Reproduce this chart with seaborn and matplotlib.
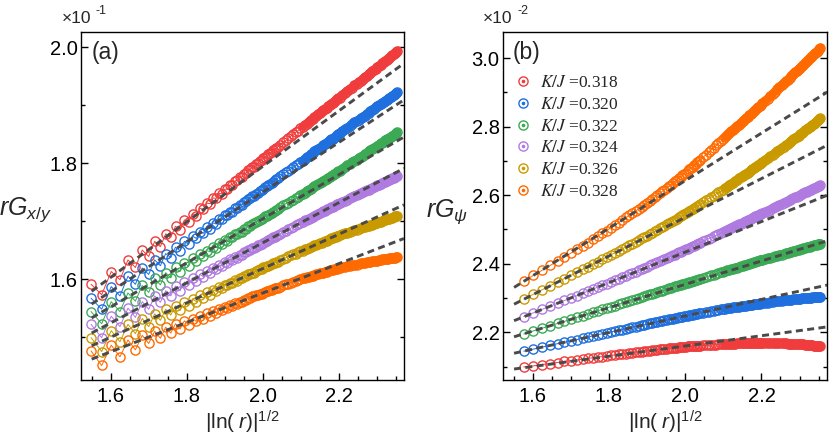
import matplotlib
matplotlib.use("Agg")
import matplotlib.pyplot as plt
from matplotlib.lines import Line2D
from matplotlib.ticker import MultipleLocator, FormatStrFormatter
import numpy as np
import seaborn as sns

# distances r (panel b starts at r=12)
r_a = [11, 12, 13, 14, 15, 16, 17, 18, 19, 20, 21, 22, 23, 24, 25, 26, 27, 28, 29, 30,
       31, 32, 33, 34, 35, 36, 37, 38, 39, 40, 41, 42, 43, 44, 45, 46, 47, 48, 49, 50,
       51, 52, 53, 54, 55, 56, 57, 58, 59, 60, 61, 62, 63, 64,
       66, 68, 70, 72, 74, 76, 78, 80, 82, 84, 86, 88, 90, 92, 94, 96, 98, 100, 102, 104,
       106, 108, 110, 112, 114, 116, 118, 120, 122, 124, 126, 128,
       132, 136, 140, 144, 148, 152, 156, 160, 164, 168, 172, 176, 180, 184, 188, 192,
       196, 200, 204, 208, 212, 216, 220, 224, 228, 232, 236, 240, 244, 248, 252, 256]
r_b = r_a[1:]

kj_labels = ["0.318", "0.320", "0.322", "0.324", "0.326", "0.328"]
colors = ["#f03c3c", "#1f6fde", "#3caa55", "#b07be0", "#c99a00", "#ff6a00"]

# panel (a): rG_x/y  (x 10^-1)
a_318 = [1.591, 1.573, 1.613, 1.599, 1.633, 1.620, 1.650, 1.639, 1.665, 1.656,
         1.678, 1.672, 1.691, 1.685, 1.702, 1.698, 1.713, 1.709, 1.722, 1.720,
         1.731, 1.730, 1.740, 1.739, 1.748, 1.747, 1.755, 1.755, 1.762, 1.763,
         1.769, 1.770, 1.776, 1.776, 1.782, 1.783, 1.788, 1.789, 1.793, 1.794,
         1.798, 1.800, 1.803, 1.806, 1.808, 1.810, 1.813, 1.815, 1.817, 1.819,
         1.822, 1.824, 1.826, 1.828,
         1.832, 1.836, 1.839, 1.843, 1.847, 1.850, 1.853, 1.856, 1.860, 1.863,
         1.866, 1.868, 1.871, 1.874, 1.876, 1.879, 1.882, 1.884, 1.886, 1.889,
         1.891, 1.893, 1.895, 1.898, 1.900, 1.902, 1.904, 1.906, 1.908, 1.910,
         1.912, 1.913,
         1.917, 1.921, 1.924, 1.927, 1.930, 1.934, 1.937, 1.940, 1.942, 1.945,
         1.948, 1.950, 1.953, 1.956, 1.958, 1.960, 1.963, 1.965, 1.967, 1.969,
         1.972, 1.974, 1.976, 1.978, 1.980, 1.982, 1.984, 1.986, 1.988, 1.989,
         1.991, 1.993]
a_320 = [1.567, 1.548, 1.587, 1.571, 1.605, 1.591, 1.619, 1.608, 1.633, 1.623,
         1.644, 1.637, 1.655, 1.649, 1.665, 1.660, 1.674, 1.670, 1.682, 1.679,
         1.690, 1.687, 1.697, 1.695, 1.704, 1.703, 1.710, 1.710, 1.716, 1.716,
         1.722, 1.722, 1.728, 1.728, 1.733, 1.734, 1.738, 1.739, 1.743, 1.744,
         1.747, 1.749, 1.752, 1.754, 1.756, 1.758, 1.760, 1.762, 1.764, 1.766,
         1.768, 1.770, 1.772, 1.774,
         1.777, 1.781, 1.784, 1.787, 1.790, 1.793, 1.796, 1.799, 1.802, 1.804,
         1.807, 1.810, 1.812, 1.815, 1.817, 1.820, 1.822, 1.824, 1.826, 1.828,
         1.831, 1.833, 1.835, 1.837, 1.839, 1.841, 1.842, 1.844, 1.846, 1.848,
         1.850, 1.851,
         1.855, 1.858, 1.861, 1.864, 1.867, 1.870, 1.872, 1.875, 1.877, 1.880,
         1.882, 1.885, 1.887, 1.889, 1.892, 1.894, 1.896, 1.898, 1.900, 1.902,
         1.904, 1.905, 1.907, 1.909, 1.911, 1.912, 1.914, 1.916, 1.917, 1.919,
         1.920, 1.922]
a_322 = [1.544, 1.523, 1.561, 1.544, 1.576, 1.562, 1.589, 1.577, 1.601, 1.590,
         1.611, 1.602, 1.620, 1.613, 1.628, 1.622, 1.636, 1.631, 1.643, 1.639,
         1.649, 1.647, 1.656, 1.654, 1.662, 1.660, 1.667, 1.666, 1.672, 1.672,
         1.677, 1.677, 1.682, 1.682, 1.686, 1.687, 1.691, 1.691, 1.695, 1.696,
         1.698, 1.700, 1.702, 1.704, 1.706, 1.708, 1.709, 1.711, 1.713, 1.714,
         1.716, 1.718, 1.719, 1.721,
         1.724, 1.727, 1.730, 1.732, 1.735, 1.737, 1.740, 1.742, 1.745, 1.747,
         1.749, 1.752, 1.754, 1.756, 1.758, 1.760, 1.762, 1.764, 1.766, 1.768,
         1.769, 1.771, 1.773, 1.775, 1.776, 1.778, 1.780, 1.781, 1.783, 1.784,
         1.786, 1.787,
         1.790, 1.793, 1.796, 1.799, 1.801, 1.804, 1.806, 1.809, 1.811, 1.813,
         1.816, 1.818, 1.820, 1.822, 1.824, 1.826, 1.828, 1.830, 1.832, 1.834,
         1.835, 1.837, 1.839, 1.841, 1.842, 1.844, 1.845, 1.847, 1.848, 1.850,
         1.852, 1.853]
a_324 = [1.522, 1.499, 1.536, 1.518, 1.550, 1.534, 1.561, 1.548, 1.571, 1.560,
         1.580, 1.571, 1.588, 1.580, 1.595, 1.589, 1.602, 1.597, 1.608, 1.604,
         1.614, 1.611, 1.619, 1.617, 1.624, 1.623, 1.629, 1.628, 1.634, 1.633,
         1.638, 1.637, 1.642, 1.642, 1.646, 1.646, 1.650, 1.650, 1.653, 1.654,
         1.656, 1.658, 1.659, 1.661, 1.663, 1.664, 1.666, 1.667, 1.669, 1.670,
         1.672, 1.673, 1.674, 1.676,
         1.678, 1.681, 1.683, 1.686, 1.688, 1.690, 1.693, 1.695, 1.697, 1.699,
         1.701, 1.702, 1.704, 1.706, 1.707, 1.709, 1.711, 1.712, 1.714, 1.715,
         1.717, 1.718, 1.720, 1.721, 1.722, 1.724, 1.725, 1.726, 1.727, 1.729,
         1.730, 1.731,
         1.733, 1.735, 1.737, 1.739, 1.741, 1.743, 1.745, 1.746, 1.748, 1.750,
         1.751, 1.753, 1.754, 1.756, 1.757, 1.759, 1.760, 1.762, 1.763, 1.764,
         1.765, 1.767, 1.768, 1.769, 1.770, 1.771, 1.773, 1.774, 1.775, 1.776,
         1.777, 1.778]
a_326 = [1.499, 1.475, 1.511, 1.492, 1.522, 1.506, 1.532, 1.518, 1.540, 1.529,
         1.548, 1.538, 1.554, 1.546, 1.560, 1.554, 1.566, 1.561, 1.572, 1.567,
         1.577, 1.573, 1.581, 1.579, 1.586, 1.584, 1.590, 1.589, 1.594, 1.593,
         1.598, 1.597, 1.601, 1.601, 1.605, 1.605, 1.608, 1.608, 1.611, 1.611,
         1.614, 1.615, 1.617, 1.618, 1.620, 1.621, 1.622, 1.623, 1.625, 1.626,
         1.627, 1.628, 1.629, 1.630,
         1.633, 1.635, 1.637, 1.639, 1.641, 1.643, 1.644, 1.646, 1.648, 1.649,
         1.651, 1.652, 1.654, 1.655, 1.657, 1.658, 1.659, 1.660, 1.662, 1.663,
         1.664, 1.665, 1.666, 1.668, 1.669, 1.670, 1.671, 1.672, 1.673, 1.674,
         1.675, 1.676,
         1.677, 1.679, 1.680, 1.681, 1.683, 1.684, 1.685, 1.687, 1.688, 1.689,
         1.690, 1.691, 1.692, 1.693, 1.694, 1.695, 1.696, 1.697, 1.698, 1.699,
         1.700, 1.701, 1.702, 1.703, 1.704, 1.704, 1.705, 1.706, 1.707, 1.708,
         1.708, 1.709]
a_328 = [1.476, 1.451, 1.486, 1.466, 1.495, 1.478, 1.503, 1.489, 1.510, 1.498,
         1.517, 1.507, 1.523, 1.514, 1.528, 1.521, 1.532, 1.527, 1.537, 1.532,
         1.541, 1.537, 1.545, 1.542, 1.549, 1.546, 1.552, 1.550, 1.555, 1.554,
         1.558, 1.557, 1.561, 1.561, 1.564, 1.564, 1.567, 1.567, 1.570, 1.570,
         1.572, 1.573, 1.574, 1.575, 1.576, 1.578, 1.579, 1.580, 1.581, 1.582,
         1.583, 1.584, 1.585, 1.585,
         1.587, 1.589, 1.591, 1.592, 1.594, 1.595, 1.597, 1.598, 1.600, 1.601,
         1.602, 1.603, 1.604, 1.605, 1.606, 1.607, 1.608, 1.609, 1.610, 1.610,
         1.611, 1.612, 1.613, 1.614, 1.615, 1.615, 1.616, 1.617, 1.617, 1.618,
         1.619, 1.619,
         1.620, 1.621, 1.622, 1.623, 1.624, 1.624, 1.625, 1.626, 1.627, 1.627,
         1.628, 1.629, 1.629, 1.630, 1.631, 1.631, 1.632, 1.632, 1.633, 1.633,
         1.634, 1.634, 1.634, 1.635, 1.635, 1.636, 1.636, 1.637, 1.637, 1.637,
         1.638, 1.638]

# panel (b): rG_psi  (x 10^-2)
b_318 = [2.099, 2.102, 2.106, 2.109, 2.112, 2.115, 2.117, 2.119, 2.122,
         2.124, 2.126, 2.128, 2.129, 2.131, 2.133, 2.134, 2.136, 2.137, 2.138,
         2.139, 2.141, 2.142, 2.143, 2.144, 2.145, 2.146, 2.147, 2.148, 2.149,
         2.149, 2.150, 2.151, 2.151, 2.152, 2.153, 2.154, 2.154, 2.155, 2.155,
         2.156, 2.157, 2.157, 2.158, 2.158, 2.159, 2.159, 2.159, 2.160, 2.160,
         2.160, 2.161, 2.161, 2.161,
         2.162, 2.162, 2.163, 2.163, 2.164, 2.164, 2.165, 2.165, 2.166, 2.166,
         2.166, 2.167, 2.167, 2.167, 2.167, 2.168, 2.168, 2.168, 2.168, 2.168,
         2.168, 2.169, 2.169, 2.169, 2.169, 2.169, 2.169, 2.170, 2.170, 2.170,
         2.170, 2.170,
         2.170, 2.169, 2.169, 2.169, 2.169, 2.168, 2.168, 2.168, 2.168, 2.168,
         2.167, 2.167, 2.167, 2.167, 2.166, 2.166, 2.166, 2.166, 2.165, 2.165,
         2.164, 2.164, 2.163, 2.163, 2.162, 2.162, 2.161, 2.161, 2.160, 2.160,
         2.159, 2.159]
b_320 = [2.145, 2.151, 2.157, 2.162, 2.167, 2.171, 2.175, 2.179, 2.183,
         2.186, 2.190, 2.193, 2.196, 2.199, 2.201, 2.204, 2.206, 2.208, 2.211,
         2.213, 2.215, 2.217, 2.219, 2.221, 2.222, 2.224, 2.226, 2.227, 2.229,
         2.231, 2.232, 2.234, 2.235, 2.236, 2.238, 2.239, 2.240, 2.242, 2.243,
         2.244, 2.245, 2.246, 2.247, 2.248, 2.249, 2.250, 2.251, 2.252, 2.253,
         2.254, 2.254, 2.255, 2.256,
         2.257, 2.259, 2.260, 2.262, 2.263, 2.264, 2.266, 2.267, 2.268, 2.269,
         2.270, 2.271, 2.272, 2.273, 2.273, 2.274, 2.275, 2.276, 2.277, 2.277,
         2.278, 2.279, 2.280, 2.280, 2.281, 2.282, 2.282, 2.283, 2.284, 2.284,
         2.285, 2.285,
         2.286, 2.287, 2.288, 2.289, 2.290, 2.290, 2.291, 2.292, 2.293, 2.293,
         2.294, 2.295, 2.295, 2.296, 2.297, 2.297, 2.298, 2.298, 2.299, 2.299,
         2.300, 2.300, 2.300, 2.301, 2.301, 2.302, 2.302, 2.303, 2.303, 2.303,
         2.304, 2.304]
b_322 = [2.195, 2.204, 2.212, 2.219, 2.226, 2.232, 2.238, 2.244, 2.249,
         2.254, 2.258, 2.263, 2.267, 2.271, 2.275, 2.278, 2.282, 2.285, 2.289,
         2.292, 2.295, 2.298, 2.300, 2.303, 2.306, 2.308, 2.311, 2.313, 2.315,
         2.318, 2.320, 2.322, 2.324, 2.326, 2.328, 2.330, 2.332, 2.334, 2.335,
         2.337, 2.339, 2.340, 2.342, 2.344, 2.345, 2.347, 2.348, 2.350, 2.351,
         2.352, 2.354, 2.355, 2.356,
         2.359, 2.361, 2.364, 2.366, 2.368, 2.371, 2.373, 2.375, 2.377, 2.379,
         2.381, 2.382, 2.384, 2.386, 2.388, 2.389, 2.391, 2.393, 2.394, 2.396,
         2.397, 2.399, 2.400, 2.402, 2.403, 2.404, 2.406, 2.407, 2.408, 2.410,
         2.411, 2.412,
         2.414, 2.416, 2.418, 2.420, 2.422, 2.424, 2.426, 2.427, 2.429, 2.431,
         2.432, 2.434, 2.435, 2.437, 2.438, 2.440, 2.441, 2.443, 2.444, 2.445,
         2.447, 2.448, 2.449, 2.450, 2.451, 2.453, 2.454, 2.455, 2.456, 2.457,
         2.458, 2.459]
b_324 = [2.246, 2.257, 2.267, 2.276, 2.285, 2.293, 2.300, 2.307, 2.314,
         2.320, 2.326, 2.332, 2.337, 2.342, 2.347, 2.352, 2.357, 2.361, 2.365,
         2.369, 2.373, 2.377, 2.381, 2.384, 2.388, 2.391, 2.395, 2.398, 2.401,
         2.405, 2.408, 2.411, 2.414, 2.417, 2.419, 2.422, 2.425, 2.427, 2.430,
         2.433, 2.435, 2.437, 2.440, 2.442, 2.444, 2.447, 2.449, 2.451, 2.453,
         2.455, 2.457, 2.460, 2.461,
         2.465, 2.469, 2.473, 2.476, 2.480, 2.483, 2.486, 2.490, 2.493, 2.496,
         2.499, 2.502, 2.504, 2.507, 2.510, 2.512, 2.515, 2.517, 2.520, 2.522,
         2.525, 2.527, 2.529, 2.531, 2.533, 2.536, 2.538, 2.540, 2.542, 2.544,
         2.546, 2.547,
         2.551, 2.555, 2.558, 2.562, 2.565, 2.568, 2.572, 2.575, 2.578, 2.580,
         2.583, 2.586, 2.589, 2.591, 2.594, 2.596, 2.599, 2.601, 2.603, 2.606,
         2.608, 2.610, 2.612, 2.614, 2.616, 2.618, 2.620, 2.622, 2.624, 2.626,
         2.628, 2.630]
b_326 = [2.297, 2.311, 2.324, 2.336, 2.347, 2.357, 2.366, 2.375, 2.384,
         2.392, 2.399, 2.406, 2.413, 2.420, 2.426, 2.432, 2.438, 2.444, 2.449,
         2.454, 2.459, 2.464, 2.469, 2.474, 2.478, 2.482, 2.487, 2.491, 2.495,
         2.499, 2.503, 2.507, 2.511, 2.515, 2.518, 2.522, 2.525, 2.529, 2.532,
         2.535, 2.538, 2.541, 2.544, 2.547, 2.551, 2.554, 2.557, 2.560, 2.563,
         2.566, 2.568, 2.571, 2.574,
         2.579, 2.585, 2.590, 2.594, 2.599, 2.604, 2.608, 2.612, 2.616, 2.621,
         2.625, 2.629, 2.633, 2.637, 2.641, 2.645, 2.649, 2.652, 2.656, 2.659,
         2.663, 2.666, 2.669, 2.673, 2.676, 2.679, 2.682, 2.685, 2.688, 2.691,
         2.693, 2.696,
         2.702, 2.708, 2.713, 2.718, 2.723, 2.728, 2.733, 2.737, 2.742, 2.746,
         2.750, 2.755, 2.759, 2.763, 2.766, 2.770, 2.774, 2.778, 2.781, 2.785,
         2.789, 2.792, 2.796, 2.799, 2.802, 2.806, 2.809, 2.812, 2.815, 2.818,
         2.821, 2.824]
b_328 = [2.349, 2.366, 2.381, 2.395, 2.408, 2.420, 2.431, 2.442, 2.453,
         2.462, 2.472, 2.481, 2.489, 2.497, 2.505, 2.513, 2.520, 2.528, 2.535,
         2.541, 2.548, 2.554, 2.560, 2.566, 2.572, 2.577, 2.583, 2.589, 2.595,
         2.601, 2.606, 2.611, 2.616, 2.622, 2.626, 2.631, 2.636, 2.640, 2.645,
         2.649, 2.653, 2.658, 2.662, 2.666, 2.670, 2.675, 2.679, 2.683, 2.687,
         2.692, 2.696, 2.700, 2.703,
         2.711, 2.718, 2.725, 2.732, 2.739, 2.745, 2.751, 2.757, 2.763, 2.769,
         2.775, 2.780, 2.786, 2.791, 2.796, 2.801, 2.806, 2.811, 2.815, 2.820,
         2.824, 2.828, 2.833, 2.837, 2.841, 2.845, 2.849, 2.853, 2.857, 2.861,
         2.864, 2.868,
         2.875, 2.882, 2.889, 2.896, 2.902, 2.909, 2.915, 2.920, 2.926, 2.932,
         2.937, 2.943, 2.948, 2.953, 2.958, 2.963, 2.967, 2.972, 2.977, 2.981,
         2.986, 2.990, 2.994, 2.999, 3.003, 3.007, 3.011, 3.015, 3.019, 3.022,
         3.026, 3.030]

# linear fits (dashed), value at the left and right ends of the fit range
fit_x_a = [1.550, 2.372]
fit_a_lo = [1.579, 1.557, 1.533, 1.507, 1.485, 1.462]
fit_a_hi = [1.972, 1.909, 1.845, 1.791, 1.728, 1.670]
fit_x_b = [1.551, 2.373]
fit_b_lo = [2.093, 2.139, 2.187, 2.234, 2.282, 2.331]
fit_b_hi = [2.216, 2.338, 2.467, 2.600, 2.746, 2.901]

# beyond this r the open circles overlap into a solid band
r_dense = 84

sns.set_theme(style="ticks")
plt.rcParams["font.family"] = ["Liberation Sans", "DejaVu Sans"]
plt.rcParams["mathtext.fontset"] = "custom"
plt.rcParams["mathtext.rm"] = "Liberation Sans"
plt.rcParams["mathtext.it"] = "Liberation Sans:italic"
plt.rcParams["mathtext.bf"] = "Liberation Sans:bold"
plt.rcParams["axes.edgecolor"] = "black"
plt.rcParams["axes.linewidth"] = 1.0

fig = plt.figure(figsize=(8.3, 4.37), dpi=100)
ax_a = fig.add_axes([81/830, 1-380/437, 323/830, 348/437])
ax_b = fig.add_axes([503/830, 1-380/437, 324/830, 348/437])

x_a = np.sqrt(np.log(r_a))
x_b = np.sqrt(np.log(r_b))
series_a = [a_318, a_320, a_322, a_324, a_326, a_328]
series_b = [b_318, b_320, b_322, b_324, b_326, b_328]

marker_kw = dict(marker="o", markersize=6.6, markerfacecolor="none",
                 markeredgewidth=1.0, linewidth=0.7)
dash_kw = dict(color="#4a4a4a", linewidth=2.1, dashes=(2.4, 1.5), zorder=4)


def draw_panel(ax, r, x, series, fit_x, fit_lo, fit_hi):
    dense = np.asarray(r) >= r_dense
    for ys, c in zip(series, colors):
        ys = np.asarray(ys)
        sns.lineplot(x=x, y=ys, ax=ax, color=c, markeredgecolor=c,
                     estimator=None, sort=False, **marker_kw)
        ax.plot(x[dense], ys[dense], color=c, linewidth=6.0,
                solid_capstyle="round", zorder=1.9)
    for lo, hi in zip(fit_lo, fit_hi):
        ax.plot(fit_x, [lo, hi], **dash_kw)


draw_panel(ax_a, r_a, x_a, series_a, fit_x_a, fit_a_lo, fit_a_hi)
draw_panel(ax_b, r_b, x_b, series_b, fit_x_b, fit_b_lo, fit_b_hi)

ax_a.set_ylim(1.426, 2.026)
ax_b.set_ylim(2.061, 3.076)
for ax in (ax_a, ax_b):
    ax.set_xlim(1.522, 2.372)
    ax.set_facecolor("white")
    ax.xaxis.set_major_locator(MultipleLocator(0.2))
    ax.xaxis.set_minor_locator(MultipleLocator(0.05))
    ax.yaxis.set_major_locator(MultipleLocator(0.2))
    ax.yaxis.set_minor_locator(MultipleLocator(0.1))
    ax.xaxis.set_major_formatter(FormatStrFormatter("%.1f"))
    ax.yaxis.set_major_formatter(FormatStrFormatter("%.1f"))
    ax.tick_params(which="both", direction="in", top=False, right=True,
                   width=1.0, colors="black")
    ax.tick_params(which="major", length=5)
    ax.tick_params(which="minor", length=3)
    ax.tick_params(axis="x", labelsize=14.5, pad=5)
    ax.tick_params(axis="y", labelsize=14.5, pad=2.5)
    ax.set_xlabel(r"$|\mathrm{ln}(\;r)|^{1/2}$", fontsize=15)
    ax.xaxis.set_label_coords(0.5, -0.083)
    ax.set_ylabel("")
    for sp in ax.spines.values():
        sp.set_color("black")
        sp.set_linewidth(1.0)

ax_a.text(0.034, 0.94, "(a)", transform=ax_a.transAxes, fontsize=16.5, va="center")
ax_b.text(0.031, 0.94, "(b)", transform=ax_b.transAxes, fontsize=16.5, va="center")

fig.text(26/830, 1-210/437, r"$rG_{x/y}$", fontsize=18, ha="center", va="center")
fig.text(447/830, 1-212/437, r"$rG_{\psi}$", fontsize=18, ha="center", va="center")

fig.text(62/830, 1-23/437, "\u00d710", fontsize=12.5, va="baseline")
fig.text(95/830, 1-14/437, "-1", fontsize=9, va="baseline")
fig.text(483/830, 1-23/437, "\u00d710", fontsize=12.5, va="baseline")
fig.text(517/830, 1-14/437, "-2", fontsize=9, va="baseline")

handles = [(Line2D([], [], marker="o", markersize=6.6, markerfacecolor="none",
                   markeredgecolor=c, markeredgewidth=1.0, linestyle="none"),
            Line2D([], [], marker="o", markersize=1.6, color=c, linestyle="none"))
           for c in colors]
labels = [r"$K/J$ =" + v for v in kj_labels]
leg = ax_b.legend(handles, labels, loc="upper left", bbox_to_anchor=(0.036, 0.876),
                  frameon=False, borderpad=0, borderaxespad=0, handlelength=1.0,
                  handletextpad=0.45, labelspacing=0.32,
                  prop={"family": "Liberation Serif", "size": 12.5})
for t in leg.get_texts():
    t.set_math_fontfamily("stix")

fig.savefig("out.png", dpi=100)
